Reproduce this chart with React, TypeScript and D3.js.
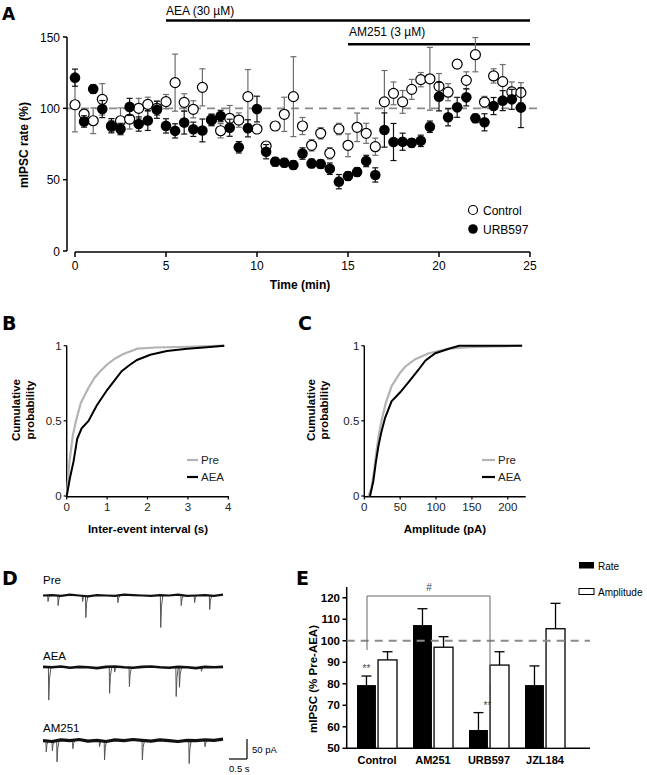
import React from 'react';
import * as d3 from 'd3';

// ---------- Panel A data ----------
const timeMin = [0, 0.5, 1, 1.5, 2, 2.5, 3, 3.5, 4, 4.5, 5, 5.5, 6, 6.5, 7, 7.5, 8, 8.5, 9, 9.5,
  10, 10.5, 11, 11.5, 12, 12.5, 13, 13.5, 14, 14.5, 15, 15.5, 16, 16.5, 17, 17.5, 18, 18.5, 19, 19.5,
  20, 20.5, 21, 21.5, 22, 22.5, 23, 23.5, 24, 24.5];
const controlRate = [102.5, 96, 91.3, 106.3, 87.5, 91.3, 92.5, 100, 102.8, 100,
  104.7, 118, 104.2, 99.3, 114.7, 92, 84.3, 93, 91.8, 108.2,
  85.5, 73.6, 87.6, 95.8, 108.2, 87.6, 74.1, 82.5, 68.5, 85.5,
  74.1, 86.7, 82.5, 73.1, 104.5, 110.5, 104.5, 113.3, 120.1, 120.7,
  115.4, 111.3, 131, 119.6, 137.6, 104.4, 122.7, 118.7, 111.5, 111];
const controlErr = [19, 3, 9, 11, 4, 9, 7, 7, 5, 5, 5, 20, 6, 6, 13, 4, 5, 9, 5, 19,
  3, 3, 3, 12, 28, 6, 4, 4, 4, 4, 8, 10, 7, 6, 22, 8, 8, 7, 5, 22,
  9, 6, 3, 6, 12, 4, 5, 12, 7, 7];
const urbRate = [121.5, 90.8, 113.5, 99.5, 87.8, 85.5, 101, 89, 91.5, 99,
  87.7, 84.2, 90, 85.3, 84.5, 91.8, 94.6, 86.4, 72.7, 86,
  99.5, 69.6, 62.6, 61.9, 60.3, 68.3, 61.4, 61, 57.7, 48.6,
  52.6, 55.4, 63.1, 53.3, 84.8, 76.4, 76.6, 75.8, 77.2, 87.1,
  108.2, 93.7, 100.7, 107.7, 93, 90.2, 101.6, 105.4, 106.3, 100.5];
const urbErr = [6, 4, 3, 6, 5, 4, 6, 5, 7, 6, 5, 5, 8, 5, 8, 4, 4, 6, 4, 6,
  9, 5, 3, 3, 3, 4, 3, 3, 4, 5, 3, 3, 4, 5, 12, 13, 6, 3, 4, 4,
  10, 6, 7, 6, 3, 6, 6, 7, 7, 14];
const aTicksX = [0, 5, 10, 15, 20, 25];
const aTicksY = [0, 50, 100, 150];

// ---------- Panel B data (inter-event interval CDF) ----------
const intervalPreX = [0, 0.07, 0.15, 0.23, 0.35, 0.54, 0.7, 0.83, 1.0, 1.2, 1.4, 1.65, 1.75, 2.2, 3.0, 3.9];
const intervalPreY = [0, 0.23, 0.4, 0.5, 0.62, 0.72, 0.79, 0.83, 0.875, 0.915, 0.945, 0.97, 0.98, 0.988, 0.993, 1.0];
const intervalAeaX = [0, 0.08, 0.17, 0.26, 0.37, 0.54, 0.74, 1.0, 1.2, 1.36, 1.55, 1.74, 2.07, 2.48, 2.98, 3.47, 3.9];
const intervalAeaY = [0, 0.12, 0.23, 0.38, 0.45, 0.5, 0.6, 0.705, 0.775, 0.83, 0.87, 0.905, 0.94, 0.965, 0.98, 0.99, 1.0];
const bTicksX = [0, 1, 2, 3, 4];
const cdfTicksY = [0, 0.5, 1];

// ---------- Panel C data (amplitude CDF) ----------
const ampPreX = [5.6, 10, 14, 17, 20, 24, 30, 38, 50, 57, 71, 90, 118, 146, 220];
const ampPreY = [0, 0.05, 0.18, 0.3, 0.4, 0.5, 0.62, 0.73, 0.82, 0.86, 0.91, 0.95, 0.98, 0.99, 1.0];
const ampAeaX = [8, 12.6, 16, 19.6, 24, 29, 38, 50, 62, 75.6, 85, 99, 118, 132, 220];
const ampAeaY = [0, 0.1, 0.22, 0.33, 0.43, 0.52, 0.63, 0.69, 0.76, 0.84, 0.9, 0.95, 0.98, 1.0, 1.0];
const cTicksX = [0, 50, 100, 150, 200];

// ---------- Panel D data (traces: event time s, amplitude pA) ----------
const preEvents = [[0.14, 15], [0.42, 25], [1.1, 15], [1.19, 55], [2.08, 18], [3.27, 80], [3.84, 25], [4.21, 18], [4.63, 35]];
const aeaEvents = [[0.16, 82], [1.85, 65], [1.99, 12], [2.4, 48], [3.7, 73], [3.79, 50], [4.4, 10]];
const am251Events = [[0.09, 28], [0.26, 25], [0.39, 53], [0.83, 20], [1.57, 15], [1.71, 48], [2.76, 48], [4.06, 57], [4.5, 15]];
const preWander = [0, 1, -1, 2, 0, -2, 1, 0, -1, 2, 1, 0, -1, 1, 0, 2, -1, 0, 1, -1, 2];
const aeaWander = [1, 0, 2, -1, 1, 0, -2, 1, 2, 0, -1, 1, 2, 0, -1, 1, 0, -2, 1, 0, 1];
const am251Wander = [0, -2, 2, 0, 3, -1, 1, -2, 2, 0, 3, 1, -1, 2, 0, -2, 1, 0, 2, 1, 4];

// ---------- Panel E data ----------
const eCategories = ['Control', 'AM251', 'URB597', 'JZL184'];
const rateMean = [79.4, 107.3, 58.5, 79.4];
const rateErr = [4.2, 7.6, 8.1, 8.9];
const ampMean = [91.1, 97, 88.7, 105.6];
const ampErr = [3.8, 4.9, 6.2, 11.8];
const eTicksY = [50, 60, 70, 80, 90, 100, 110, 120];

const FONT = "'Liberation Sans', Arial, sans-serif";
const LETTER = "'DejaVu Sans', Verdana, sans-serif";

function baselinePath(wander: number[], x: d3.ScaleLinear<number, number>, y0: number, k: number) {
  return d3.line()(wander.map((w, i) => [x(i * 0.25), y0 - w * k] as [number, number])) || '';
}

function eventPaths(events: number[][], x: d3.ScaleLinear<number, number>, y0: number, k: number) {
  return events.map(([t, a]) => {
    const pts: [number, number][] = [
      [x(t - 0.01), y0],
      [x(t), y0 + a * k],
      [x(t + 0.02), y0 + a * k * 0.35],
      [x(t + 0.06), y0],
    ];
    return d3.line()(pts) || '';
  });
}

export default function App() {
  // Panel A scales
  const xA = d3.scaleLinear().domain([0, 25]).range([75, 530]);
  const yA = d3.scaleLinear().domain([0, 150]).range([251, 37]);
  // Panel B/C
  const xB = d3.scaleLinear().domain([0, 4]).range([66.7, 228.3]);
  const yB = d3.scaleLinear().domain([0, 1]).range([496, 345.7]);
  const xC = d3.scaleLinear().domain([0, 225]).range([364.3, 525.7]);
  const lineB = d3.line<[number, number]>().x(d => xB(d[0])).y(d => yB(d[1]));
  const lineC = d3.line<[number, number]>().x(d => xC(d[0])).y(d => yB(d[1]));
  // Panel D
  const xD = d3.scaleLinear().domain([0, 5]).range([43, 223]);
  const kD = 0.4;
  const traces = [
    { label: 'Pre', ly: 584, y0: 595.5, ev: preEvents, w: preWander, sw: 2.2 },
    { label: 'AEA', ly: 660, y0: 667.3, ev: aeaEvents, w: aeaWander, sw: 2.6 },
    { label: 'AM251', ly: 732, y0: 740.7, ev: am251Events, w: am251Wander, sw: 3.2 },
  ];
  // Panel E
  const xE = d3.scaleBand<string>().domain(eCategories).range([349, 573]).paddingInner(0).paddingOuter(0);
  const subE = d3.scaleBand<string>().domain(['Rate', 'Amplitude']).range([-20, 20]).paddingInner(0.1);
  const yE = d3.scaleLinear().domain([50, 125]).range([748.3, 587]);

  const capA = 3;

  return (
    <svg width={647} height={775} style={{ position: 'absolute', left: 0, top: 0, background: '#fff' }} fontFamily={FONT}>
      <rect x={0} y={0} width={647} height={775} fill="#fff" />
      {/* ================= Panel A ================= */}
      <text x={2} y={20} fontFamily={LETTER} fontWeight="bold" fontSize={17}>A</text>
      <text x={166} y={15} fontSize={12}>AEA (30 µM)</text>
      <line x1={xA(5)} x2={xA(25)} y1={20.5} y2={20.5} stroke="#000" strokeWidth={2.5} />
      <text x={349} y={36} fontSize={12}>AM251 (3 µM)</text>
      <line x1={xA(15)} x2={xA(25)} y1={44.3} y2={44.3} stroke="#000" strokeWidth={2.5} />
      <line x1={67} x2={540} y1={yA(100)} y2={yA(100)} stroke="#8a8a8a" strokeWidth={1.8} strokeDasharray="8,6" />
      <line x1={67} x2={67} y1={yA(150)} y2={yA(0)} stroke="#000" strokeWidth={1.5} />
      {aTicksY.map(v => (
        <g key={'ay' + v}>
          <line x1={63} x2={67} y1={yA(v)} y2={yA(v)} stroke="#000" strokeWidth={1.5} />
          <text x={60} y={yA(v) + 4.5} textAnchor="end" fontSize={12}>{v}</text>
        </g>
      ))}
      <line x1={xA(0)} x2={xA(25)} y1={252} y2={252} stroke="#000" strokeWidth={1.5} />
      {aTicksX.map(v => (
        <g key={'ax' + v}>
          <line x1={xA(v)} x2={xA(v)} y1={252} y2={257} stroke="#000" strokeWidth={1.5} />
          <text x={xA(v)} y={270} textAnchor="middle" fontSize={12}>{v}</text>
        </g>
      ))}
      <text x={300} y={289} textAnchor="middle" fontSize={12} fontWeight="bold">Time (min)</text>
      <text transform="translate(28,145) rotate(-90)" textAnchor="middle" fontSize={12} fontWeight="bold">mIPSC rate (%)</text>
      {timeMin.map((t, i) => {
        const x = xA(t);
        const y1 = yA(controlRate[i] + controlErr[i]);
        const y2 = yA(controlRate[i] - controlErr[i]);
        return (
          <g key={'ce' + i} stroke="#6e6e6e" strokeWidth={1.2}>
            <line x1={x} x2={x} y1={y1} y2={y2} />
            <line x1={x - capA} x2={x + capA} y1={y1} y2={y1} />
            <line x1={x - capA} x2={x + capA} y1={y2} y2={y2} />
          </g>
        );
      })}
      {timeMin.map((t, i) => (
        <circle key={'cc' + i} cx={xA(t)} cy={yA(controlRate[i])} r={5} fill="#fff" stroke="#000" strokeWidth={1.2} />
      ))}
      {timeMin.map((t, i) => {
        const x = xA(t);
        const y1 = yA(urbRate[i] + urbErr[i]);
        const y2 = yA(urbRate[i] - urbErr[i]);
        return (
          <g key={'ue' + i} stroke="#111" strokeWidth={1.2}>
            <line x1={x} x2={x} y1={y1} y2={y2} />
            <line x1={x - capA} x2={x + capA} y1={y1} y2={y1} />
            <line x1={x - capA} x2={x + capA} y1={y2} y2={y2} />
          </g>
        );
      })}
      {timeMin.map((t, i) => (
        <circle key={'uc' + i} cx={xA(t)} cy={yA(urbRate[i])} r={5.3} fill="#000" />
      ))}
      <circle cx={473} cy={210} r={4.5} fill="#fff" stroke="#000" strokeWidth={1.2} />
      <text x={483} y={214.5} fontSize={12}>Control</text>
      <circle cx={473} cy={229} r={4.8} fill="#000" />
      <text x={483} y={233.5} fontSize={12}>URB597</text>

      {/* ================= Panel B ================= */}
      <text x={2} y={330} fontFamily={LETTER} fontWeight="bold" fontSize={19}>B</text>
      <line x1={xB(0)} x2={xB(0)} y1={yB(1)} y2={yB(0) + 0.7} stroke="#000" strokeWidth={1.4} />
      <line x1={xB(0)} x2={xB(4)} y1={yB(0) + 0.7} y2={yB(0) + 0.7} stroke="#000" strokeWidth={1.4} />
      {cdfTicksY.map(v => (
        <g key={'by' + v}>
          <line x1={xB(0) - 3} x2={xB(0)} y1={yB(v)} y2={yB(v)} stroke="#000" strokeWidth={1.2} />
          <text x={xB(0) - 5} y={yB(v) + 4} textAnchor="end" fontSize={11.5} fill="#222">{v}</text>
        </g>
      ))}
      {bTicksX.map(v => (
        <g key={'bx' + v}>
          <line x1={xB(v)} x2={xB(v)} y1={yB(0)} y2={yB(0) + 3.5} stroke="#000" strokeWidth={1.2} />
          <text x={xB(v)} y={511} textAnchor="middle" fontSize={11.5} fill="#222">{v}</text>
        </g>
      ))}
      <path d={lineB(intervalPreX.map((x, i) => [x, intervalPreY[i]] as [number, number])) || ''} fill="none" stroke="#b3b3b3" strokeWidth={2.2} />
      <path d={lineB(intervalAeaX.map((x, i) => [x, intervalAeaY[i]] as [number, number])) || ''} fill="none" stroke="#000" strokeWidth={2} />
      <line x1={187} x2={198} y1={460} y2={460} stroke="#b3b3b3" strokeWidth={2.2} />
      <text x={201} y={464} fontSize={11.5} fill="#222">Pre</text>
      <line x1={187} x2={198} y1={477} y2={477} stroke="#000" strokeWidth={2.2} />
      <text x={201} y={481} fontSize={11.5} fill="#222">AEA</text>
      <text x={148} y={533} textAnchor="middle" fontSize={11.5} fontWeight="bold">Inter-event interval (s)</text>
      <text transform="translate(20,410) rotate(-90)" textAnchor="middle" fontSize={11.5} fontWeight="bold">Cumulative</text>
      <text transform="translate(34,410) rotate(-90)" textAnchor="middle" fontSize={11.5} fontWeight="bold">probability</text>

      {/* ================= Panel C ================= */}
      <text x={298} y={330} fontFamily={LETTER} fontWeight="bold" fontSize={19}>C</text>
      <line x1={xC(0)} x2={xC(0)} y1={yB(1)} y2={yB(0) + 0.7} stroke="#000" strokeWidth={1.4} />
      <line x1={xC(0)} x2={xC(225)} y1={yB(0) + 0.7} y2={yB(0) + 0.7} stroke="#000" strokeWidth={1.4} />
      {cdfTicksY.map(v => (
        <g key={'cy' + v}>
          <line x1={xC(0) - 3} x2={xC(0)} y1={yB(v)} y2={yB(v)} stroke="#000" strokeWidth={1.2} />
          <text x={xC(0) - 5} y={yB(v) + 4} textAnchor="end" fontSize={11.5} fill="#222">{v}</text>
        </g>
      ))}
      {cTicksX.map(v => (
        <g key={'cx' + v}>
          <line x1={xC(v)} x2={xC(v)} y1={yB(0)} y2={yB(0) + 3.5} stroke="#000" strokeWidth={1.2} />
          <text x={xC(v)} y={511} textAnchor="middle" fontSize={11.5} fill="#222">{v}</text>
        </g>
      ))}
      <path d={lineC(ampPreX.map((x, i) => [x, ampPreY[i]] as [number, number])) || ''} fill="none" stroke="#b3b3b3" strokeWidth={2.2} />
      <path d={lineC(ampAeaX.map((x, i) => [x, ampAeaY[i]] as [number, number])) || ''} fill="none" stroke="#000" strokeWidth={2} />
      <line x1={482} x2={495} y1={460} y2={460} stroke="#b3b3b3" strokeWidth={2.2} />
      <text x={498} y={464} fontSize={11.5} fill="#222">Pre</text>
      <line x1={482} x2={495} y1={477} y2={477} stroke="#000" strokeWidth={2.2} />
      <text x={498} y={481} fontSize={11.5} fill="#222">AEA</text>
      <text x={445} y={533} textAnchor="middle" fontSize={11.5} fontWeight="bold">Amplitude (pA)</text>
      <text transform="translate(315,410) rotate(-90)" textAnchor="middle" fontSize={11.5} fontWeight="bold">Cumulative</text>
      <text transform="translate(328,410) rotate(-90)" textAnchor="middle" fontSize={11.5} fontWeight="bold">probability</text>

      {/* ================= Panel D ================= */}
      <text x={2} y={585} fontFamily={LETTER} fontWeight="bold" fontSize={19}>D</text>
      {traces.map(tr => (
        <g key={'tr' + tr.label}>
          <text x={43} y={tr.ly} fontSize={11.5}>{tr.label}</text>
          {eventPaths(tr.ev, xD, tr.y0, kD).map((d, j) => (
            <path key={j} d={d} fill="none" stroke="#555" strokeWidth={1} strokeLinejoin="round" />
          ))}
          <path d={baselinePath(tr.w, xD, tr.y0, kD)} fill="none" stroke="#111" strokeWidth={tr.sw} strokeLinejoin="round" />
        </g>
      ))}
      <line x1={247} x2={247} y1={739} y2={759} stroke="#000" strokeWidth={1.2} />
      <line x1={229} x2={247} y1={759} y2={759} stroke="#000" strokeWidth={1.2} />
      <text x={252} y={753} fontSize={9.5}>50 pA</text>
      <text x={229} y={772} fontSize={9.5}>0.5 s</text>

      {/* ================= Panel E ================= */}
      <text x={296} y={585} fontFamily={LETTER} fontWeight="bold" fontSize={19}>E</text>
      <line x1={346.7} x2={346.7} y1={yE(125)} y2={yE(50)} stroke="#000" strokeWidth={1.5} />
      <line x1={346.7} x2={590} y1={yE(50)} y2={yE(50)} stroke="#000" strokeWidth={1.5} />
      {eTicksY.map(v => (
        <g key={'ey' + v}>
          <line x1={342.5} x2={346.7} y1={yE(v)} y2={yE(v)} stroke="#000" strokeWidth={1.5} />
          <text x={340} y={yE(v) + 4} textAnchor="end" fontSize={11.5} fontWeight="bold">{v}</text>
        </g>
      ))}
      <text transform="translate(317,679) rotate(-90)" textAnchor="middle" fontSize={11.5} fontWeight="bold">mIPSC (% Pre-AEA)</text>
      {eCategories.map((c, i) => {
        const cx = (xE(c) || 0) + xE.bandwidth() / 2;
        const rx = cx + (subE('Rate') || 0);
        const ax = cx + (subE('Amplitude') || 0);
        const w = subE.bandwidth();
        return (
          <g key={'eb' + c}>
            <line x1={rx + w / 2} x2={rx + w / 2} y1={yE(rateMean[i])} y2={yE(rateMean[i] + rateErr[i])} stroke="#000" strokeWidth={1.3} />
            <line x1={rx + w / 2 - 5} x2={rx + w / 2 + 5} y1={yE(rateMean[i] + rateErr[i])} y2={yE(rateMean[i] + rateErr[i])} stroke="#000" strokeWidth={1.3} />
            <line x1={ax + w / 2} x2={ax + w / 2} y1={yE(ampMean[i])} y2={yE(ampMean[i] + ampErr[i])} stroke="#000" strokeWidth={1.3} />
            <line x1={ax + w / 2 - 5} x2={ax + w / 2 + 5} y1={yE(ampMean[i] + ampErr[i])} y2={yE(ampMean[i] + ampErr[i])} stroke="#000" strokeWidth={1.3} />
            <rect x={rx} y={yE(rateMean[i])} width={w} height={yE(50) - yE(rateMean[i])} fill="#000" />
            <rect x={ax} y={yE(ampMean[i])} width={w} height={yE(50) - yE(ampMean[i])} fill="#fff" stroke="#000" strokeWidth={1.3} />
            <text x={cx} y={764} textAnchor="middle" fontSize={11} fontWeight="bold">{c}</text>
          </g>
        );
      })}
      <line x1={346.7} x2={590} y1={yE(100)} y2={yE(100)} stroke="#8a8a8a" strokeWidth={1.8} strokeDasharray="8,6" />
      <path d={`M${(xE('Control') || 0) + xE.bandwidth() / 2 - 10},650 V596 H${(xE('URB597') || 0) + xE.bandwidth() / 2 + 1} V685`} fill="none" stroke="#666" strokeWidth={1} />
      <text x={429} y={591} textAnchor="middle" fontSize={10} fill="#444">#</text>
      <text x={366.5} y={672} textAnchor="middle" fontSize={10} fill="#444">**</text>
      <text x={487.5} y={709} textAnchor="middle" fontSize={10} fill="#444">**</text>
      <rect x={579} y={562} width={15} height={6.5} fill="#000" />
      <text x={598} y={569.5} fontSize={10}>Rate</text>
      <rect x={579} y={588.5} width={15} height={6} fill="#fff" stroke="#000" strokeWidth={1} />
      <text x={598} y={596} fontSize={10}>Amplitude</text>
    </svg>
  );
}
